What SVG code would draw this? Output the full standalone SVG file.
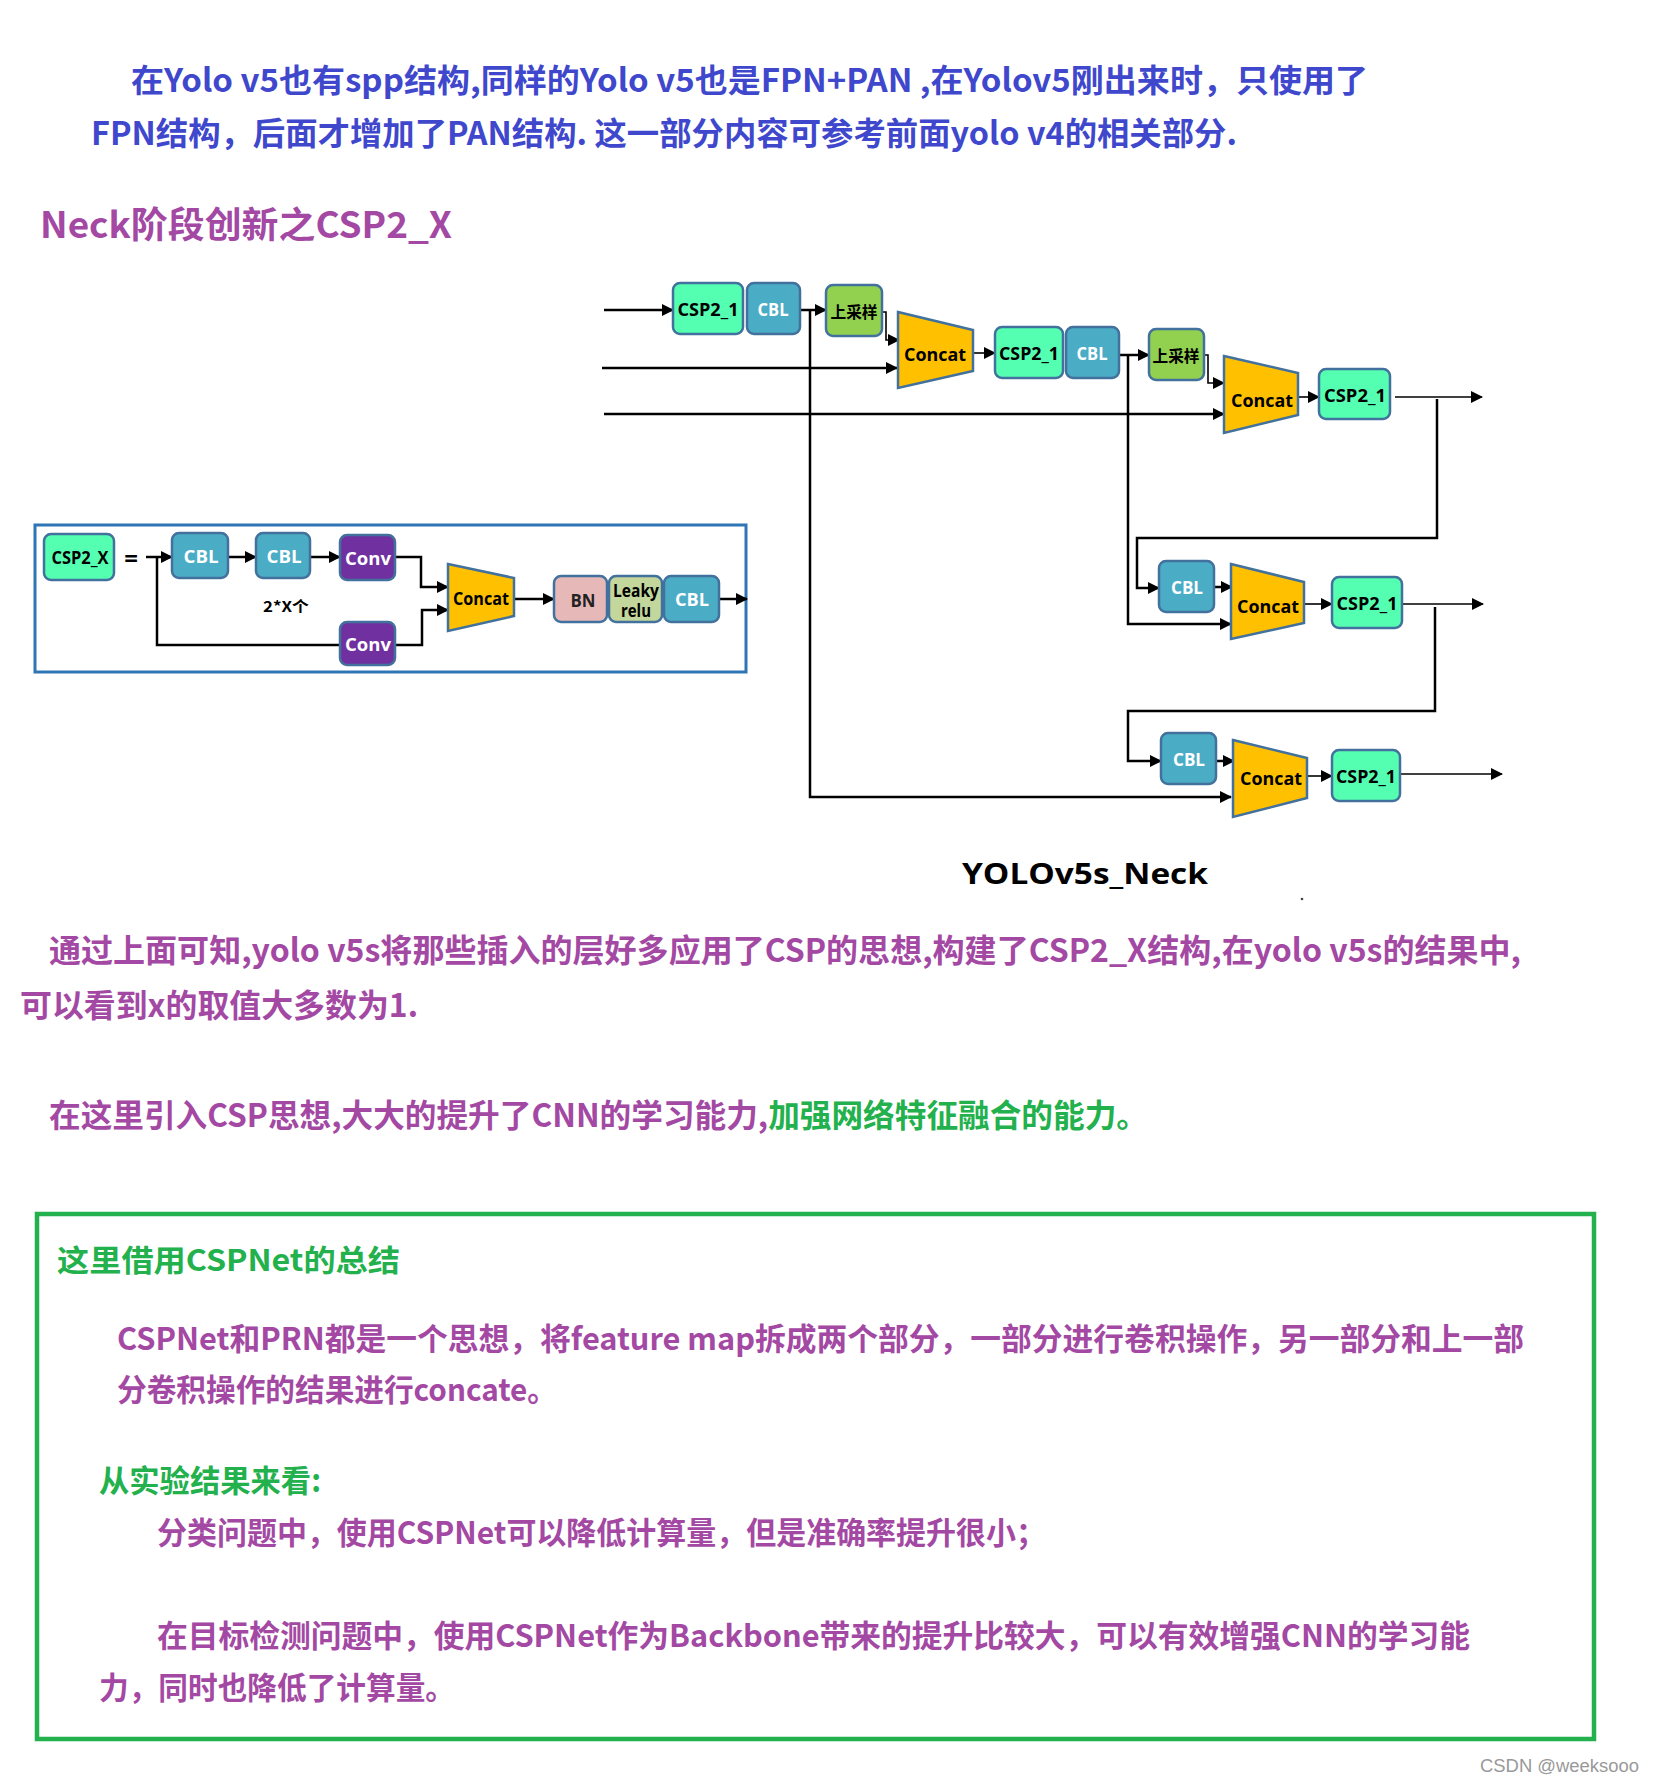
<svg xmlns="http://www.w3.org/2000/svg" width="1654" height="1783" viewBox="0 0 1654 1783">
<defs>
<marker id="ah" markerWidth="12" markerHeight="12" refX="11" refY="6" orient="auto" markerUnits="userSpaceOnUse"><path d="M0,0 L12,6 L0,12 z" fill="#000"/></marker>
<style>
.cn{font-family:"Noto Sans CJK SC","Noto Sans",sans-serif;font-weight:bold;}
.blue{fill:#3F48CC;font-size:32px;}
.pur{fill:#A349A4;}
.grn{fill:#22B14C;}
.b32{font-size:32px;}
.b31{font-size:31px;}
.box{stroke:#41719C;stroke-width:2.5;}
.csp{fill:#55FFB2;}
.cbl{fill:#4BACC6;}
.ups{fill:#92D050;}
.conv{fill:#7030A0;}
.bn{fill:#E6B9B8;}
.lr{fill:#C3D69B;}
.cat{fill:#FFC000;stroke:#41719C;stroke-width:2.5;}
.lbl{font-family:"Open Sans","DejaVu Sans",sans-serif;font-weight:bold;font-size:17px;dominant-baseline:central;text-anchor:middle;}
.lk{fill:#000;}
.lw{fill:#fff;}
.ln{fill:none;stroke:#000;stroke-width:2.5;}
.thin{fill:none;stroke:#000;stroke-width:1.6;}
.arr{marker-end:url(#ah);}
</style>
</defs>
<rect width="1654" height="1783" fill="#fff"/>

<!-- Intro text -->
<text class="cn blue" x="131" y="92" textLength="1237" lengthAdjust="spacingAndGlyphs">在Yolo v5也有spp结构,同样的Yolo v5也是FPN+PAN ,在Yolov5刚出来时，只使用了</text>
<text class="cn blue" x="91" y="145" textLength="1146" lengthAdjust="spacingAndGlyphs">FPN结构，后面才增加了PAN结构. 这一部分内容可参考前面yolo v4的相关部分.</text>
<text class="cn pur" x="40" y="238" font-size="36" textLength="412" lengthAdjust="spacingAndGlyphs">Neck阶段创新之CSP2_X</text>

<!-- Neck connectors -->
<g id="connectors">
<path class="ln arr" d="M604,310 H673"/>
<path class="ln arr" d="M800,310 H826"/>
<path class="ln arr" d="M810,310 V797 H1231"/>
<path class="thin arr" d="M882,312 H886 V340 H899"/>
<path class="ln arr" d="M602,368 H897"/>
<path class="thin arr" d="M973,353 H995"/>
<path class="ln arr" d="M1119,355 H1149"/>
<path class="ln arr" d="M1128,355 V624 H1231"/>
<path class="thin arr" d="M1204,355 H1208 V383 H1224"/>
<path class="ln arr" d="M604,414 H1224"/>
<path class="thin arr" d="M1298,397 H1319"/>
<path class="thin arr" d="M1395,397 H1482"/>
<path class="ln arr" d="M1437,399 V538 H1137 V588 H1159"/>
<path class="ln arr" d="M1214,587 H1232"/>
<path class="thin arr" d="M1304,604 H1332"/>
<path class="thin arr" d="M1402,604 H1483"/>
<path class="ln arr" d="M1435,607 V711 H1128 V761 H1161"/>
<path class="ln arr" d="M1216,761 H1234"/>
<path class="thin arr" d="M1307,776 H1332"/>
<path class="thin arr" d="M1400,774 H1502"/>
</g>

<!-- Neck nodes -->
<g id="csp2_1_a"><rect class="box csp" x="673" y="283" width="70" height="51" rx="7"/><text class="lbl lk" x="708" y="309" textLength="61" lengthAdjust="spacingAndGlyphs">CSP2_1</text></g>
<g id="cbl_a"><rect class="box cbl" x="747" y="283" width="53" height="51" rx="7"/><text class="lbl lw" x="773" y="309" textLength="31" lengthAdjust="spacingAndGlyphs">CBL</text></g>
<g id="up_a"><rect class="box ups" x="826" y="285" width="56" height="51" rx="7"/><text class="cn" x="854" y="311" font-size="16" text-anchor="middle" dominant-baseline="central" fill="#000" textLength="47" lengthAdjust="spacingAndGlyphs">上采样</text></g>
<g id="concat_a"><polygon class="cat" points="898,312 973,330 973,371 898,388"/><text class="lbl lk" x="935" y="354" font-size="15" textLength="62" lengthAdjust="spacingAndGlyphs">Concat</text></g>
<g id="csp2_1_b"><rect class="box csp" x="995" y="327" width="68" height="51" rx="7"/><text class="lbl lk" x="1029" y="353" textLength="60" lengthAdjust="spacingAndGlyphs">CSP2_1</text></g>
<g id="cbl_b"><rect class="box cbl" x="1066" y="327" width="53" height="51" rx="7"/><text class="lbl lw" x="1092" y="353" textLength="31" lengthAdjust="spacingAndGlyphs">CBL</text></g>
<g id="up_b"><rect class="box ups" x="1149" y="329" width="55" height="51" rx="7"/><text class="cn" x="1176" y="355" font-size="16" text-anchor="middle" dominant-baseline="central" fill="#000" textLength="47" lengthAdjust="spacingAndGlyphs">上采样</text></g>
<g id="concat_b"><polygon class="cat" points="1224,356 1298,373 1298,415 1224,433"/><text class="lbl lk" x="1262" y="400" font-size="15" textLength="62" lengthAdjust="spacingAndGlyphs">Concat</text></g>
<g id="csp2_1_c"><rect class="box csp" x="1319" y="369" width="71" height="50" rx="7"/><text class="lbl lk" x="1355" y="395" textLength="62" lengthAdjust="spacingAndGlyphs">CSP2_1</text></g>
<g id="cbl_c"><rect class="box cbl" x="1159" y="561" width="55" height="51" rx="7"/><text class="lbl lw" x="1187" y="587" textLength="32" lengthAdjust="spacingAndGlyphs">CBL</text></g>
<g id="concat_c"><polygon class="cat" points="1231,564 1304,582 1304,623 1231,639"/><text class="lbl lk" x="1268" y="606" font-size="15" textLength="62" lengthAdjust="spacingAndGlyphs">Concat</text></g>
<g id="csp2_1_d"><rect class="box csp" x="1332" y="577" width="70" height="51" rx="7"/><text class="lbl lk" x="1367" y="603" textLength="61" lengthAdjust="spacingAndGlyphs">CSP2_1</text></g>
<g id="cbl_d"><rect class="box cbl" x="1161" y="733" width="55" height="51" rx="7"/><text class="lbl lw" x="1189" y="759" textLength="32" lengthAdjust="spacingAndGlyphs">CBL</text></g>
<g id="concat_d"><polygon class="cat" points="1233,740 1307,758 1307,798 1233,817"/><text class="lbl lk" x="1271" y="778" font-size="15" textLength="62" lengthAdjust="spacingAndGlyphs">Concat</text></g>
<g id="csp2_1_e"><rect class="box csp" x="1332" y="750" width="68" height="51" rx="7"/><text class="lbl lk" x="1366" y="776" textLength="60" lengthAdjust="spacingAndGlyphs">CSP2_1</text></g>

<text x="962" y="884" font-family="Open Sans, DejaVu Sans, sans-serif" font-weight="bold" font-size="29" fill="#000" textLength="246" lengthAdjust="spacingAndGlyphs">YOLOv5s_Neck</text>
<circle cx="1302" cy="899" r="1.3" fill="#444"/>

<!-- Legend CSP2_X -->
<g id="legend">
<rect x="35" y="525" width="711" height="147" fill="none" stroke="#2E75B6" stroke-width="3"/>
<g id="legend_connectors">
<path class="ln arr" d="M146,557 H172"/>
<path class="ln" d="M157,557 V645 H340"/>
<path class="ln arr" d="M228,557 H256"/>
<path class="ln arr" d="M310,557 H340"/>
<path class="ln arr" d="M395,557 H421 V587 H448"/>
<path class="ln arr" d="M395,645 H422 V610 H448"/>
<path class="ln arr" d="M514,599 H554"/>
<path class="ln arr" d="M719,599 H747"/>
</g>
<g id="l_csp2x"><rect class="box csp" x="44" y="534" width="70" height="46" rx="7"/><text class="lbl lk" x="80" y="557" font-size="16" textLength="57" lengthAdjust="spacingAndGlyphs">CSP2_X</text></g>
<text x="131" y="557" font-family="Open Sans, DejaVu Sans, sans-serif" font-weight="bold" font-size="24" text-anchor="middle" dominant-baseline="central">=</text>
<g id="l_cbl1"><rect class="box cbl" x="172" y="533" width="56" height="45" rx="7"/><text class="lbl lw" x="201" y="556" textLength="35" lengthAdjust="spacingAndGlyphs">CBL</text></g>
<g id="l_cbl2"><rect class="box cbl" x="256" y="533" width="54" height="45" rx="7"/><text class="lbl lw" x="284" y="556" textLength="35" lengthAdjust="spacingAndGlyphs">CBL</text></g>
<g id="l_conv1"><rect class="box conv" x="340" y="535" width="55" height="45" rx="7"/><text class="lbl lw" x="368" y="558" textLength="46" lengthAdjust="spacingAndGlyphs">Conv</text></g>
<g id="l_conv2"><rect class="box conv" x="340" y="622" width="55" height="43" rx="7"/><text class="lbl lw" x="368" y="644" textLength="46" lengthAdjust="spacingAndGlyphs">Conv</text></g>
<text class="cn" x="286" y="605" font-size="15" text-anchor="middle" dominant-baseline="central" fill="#000" textLength="46" lengthAdjust="spacingAndGlyphs">2*X个</text>
<g id="l_concat"><polygon class="cat" points="448,564 514,578 514,616 448,631"/><text class="lbl lk" x="481" y="598" font-size="14" textLength="56" lengthAdjust="spacingAndGlyphs">Concat</text></g>
<g id="l_bn"><rect class="box bn" x="554" y="576" width="53" height="46" rx="7"/><text class="lbl" x="583" y="600" font-size="17" fill="#222" textLength="25" lengthAdjust="spacingAndGlyphs">BN</text></g>
<g id="l_leaky"><rect class="box lr" x="609" y="576" width="53" height="46" rx="7"/><text class="lbl lk" x="636" y="590" font-size="13" textLength="46" lengthAdjust="spacingAndGlyphs">Leaky</text><text class="lbl lk" x="636" y="610" font-size="13" textLength="30" lengthAdjust="spacingAndGlyphs">relu</text></g>
<g id="l_cbl3"><rect class="box cbl" x="664" y="576" width="55" height="46" rx="7"/><text class="lbl lw" x="692" y="599" textLength="34" lengthAdjust="spacingAndGlyphs">CBL</text></g>
</g>

<!-- Paragraphs -->
<text class="cn pur b32" x="49" y="962" textLength="1472" lengthAdjust="spacingAndGlyphs">通过上面可知,yolo v5s将那些插入的层好多应用了CSP的思想,构建了CSP2_X结构,在yolo v5s的结果中,</text>
<text class="cn pur b32" x="20" y="1017" textLength="398" lengthAdjust="spacingAndGlyphs">可以看到x的取值大多数为1.</text>
<text class="cn b32" x="49" y="1127" textLength="1099" lengthAdjust="spacingAndGlyphs"><tspan class="pur">在这里引入CSP思想,大大的提升了CNN的学习能力,</tspan><tspan class="grn">加强网络特征融合的能力。</tspan></text>

<!-- Summary box -->
<rect x="37" y="1214" width="1557" height="525" fill="none" stroke="#22B14C" stroke-width="4.5"/>
<text class="cn grn" x="57" y="1271" font-size="30" textLength="343" lengthAdjust="spacingAndGlyphs">这里借用CSPNet的总结</text>
<text class="cn pur b31" x="117" y="1350" textLength="1407" lengthAdjust="spacingAndGlyphs">CSPNet和PRN都是一个思想，将feature map拆成两个部分，一部分进行卷积操作，另一部分和上一部</text>
<text class="cn pur b31" x="117" y="1401" textLength="440" lengthAdjust="spacingAndGlyphs">分卷积操作的结果进行concate。</text>
<text class="cn grn b31" x="99" y="1492" textLength="222" lengthAdjust="spacingAndGlyphs">从实验结果来看:</text>
<text class="cn pur b31" x="157" y="1544" textLength="889" lengthAdjust="spacingAndGlyphs">分类问题中，使用CSPNet可以降低计算量，但是准确率提升很小；</text>
<text class="cn pur b31" x="157" y="1647" textLength="1313" lengthAdjust="spacingAndGlyphs">在目标检测问题中，使用CSPNet作为Backbone带来的提升比较大，可以有效增强CNN的学习能</text>
<text class="cn pur b31" x="99" y="1699" textLength="356" lengthAdjust="spacingAndGlyphs">力，同时也降低了计算量。</text>

<text x="1480" y="1772" font-family="Liberation Sans, Arial, sans-serif" font-size="18" fill="#999" textLength="159" lengthAdjust="spacingAndGlyphs">CSDN @weeksooo</text>
</svg>
